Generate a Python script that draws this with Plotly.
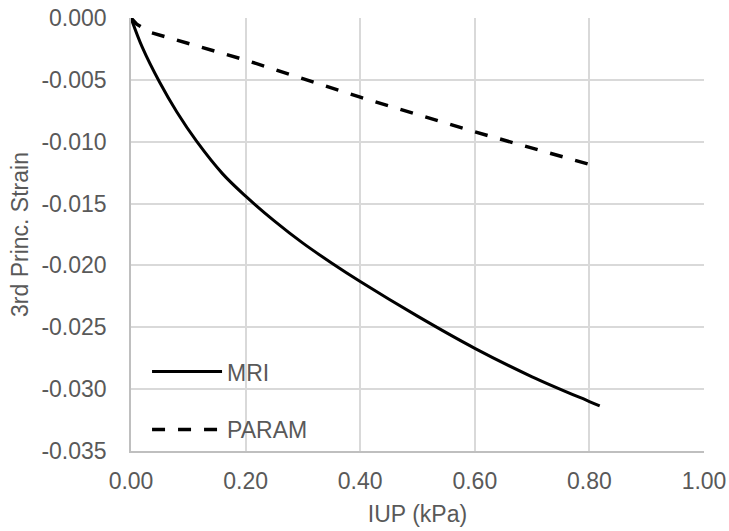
import plotly.graph_objects as go

# Data
mri_x = [0.0, 0.02, 0.05, 0.08, 0.115, 0.16, 0.20, 0.25, 0.30, 0.35, 0.40, 0.50, 0.60, 0.70, 0.80, 0.818]
mri_y = [0.0, -0.0024, -0.0052, -0.0076, -0.0100, -0.0126, -0.0144, -0.0164, -0.0182, -0.0198,
         -0.0213, -0.0241, -0.0267, -0.0290, -0.0310, -0.03135]

param_x = [0.0, 0.01, 0.033, 0.20, 0.40, 0.60, 0.805]
param_y = [0.0, -0.0005, -0.00115, -0.0034, -0.0064, -0.0092, -0.0119]

x_ticks = [0.0, 0.2, 0.4, 0.6, 0.8, 1.0]
x_labels = ["0.00", "0.20", "0.40", "0.60", "0.80", "1.00"]
y_ticks = [0.0, -0.005, -0.010, -0.015, -0.020, -0.025, -0.030, -0.035]
y_labels = ["0.000", "-0.005", "-0.010", "-0.015", "-0.020", "-0.025", "-0.030", "-0.035"]

FONT = "Arial, Liberation Sans, sans-serif"
GRAY = "#595959"
FS = 23

fig = go.Figure()
fig.add_trace(go.Scatter(x=mri_x, y=mri_y, mode="lines", name="MRI",
                         line=dict(color="black", width=3, shape="spline"),
                         legendgroup="a"))
fig.add_trace(go.Scatter(x=param_x, y=param_y, mode="lines", name="PARAM",
                         line=dict(color="black", width=3.5, dash="13px,13px"),
                         legendgroup="b"))

fig.update_layout(
    width=729, height=531,
    margin=dict(l=131, r=25, t=18, b=80, autoexpand=False),
    paper_bgcolor="white", plot_bgcolor="white",
    font=dict(family=FONT, size=FS, color=GRAY),
    showlegend=True,
    legend=dict(x=0.028, y=0.233, xanchor="left", yanchor="top",
                bgcolor="rgba(0,0,0,0)", tracegroupgap=25, itemwidth=70,
                font=dict(family=FONT, size=FS, color=GRAY)),
    xaxis=dict(range=[0, 1.0], tickvals=x_ticks, ticktext=x_labels,
               showgrid=True, gridcolor="#d9d9d9", gridwidth=1.5,
               showline=True, linecolor="#bfbfbf", linewidth=1.5,
               zeroline=False, ticks="", ticklabelstandoff=9, automargin=False,
               title=dict(text="IUP (kPa)", standoff=13,
                          font=dict(family=FONT, size=FS, color=GRAY))),
    yaxis=dict(range=[-0.035, 0.0], tickvals=y_ticks, ticktext=y_labels,
               showgrid=True, gridcolor="#d9d9d9", gridwidth=1.5,
               showline=True, linecolor="#bfbfbf", linewidth=1.5,
               zeroline=False, ticks="", ticklabelstandoff=18, automargin=False,
               title=dict(text="3rd Princ. Strain", standoff=6,
                          font=dict(family=FONT, size=FS, color=GRAY))),
)

fig.write_html("out.html")
